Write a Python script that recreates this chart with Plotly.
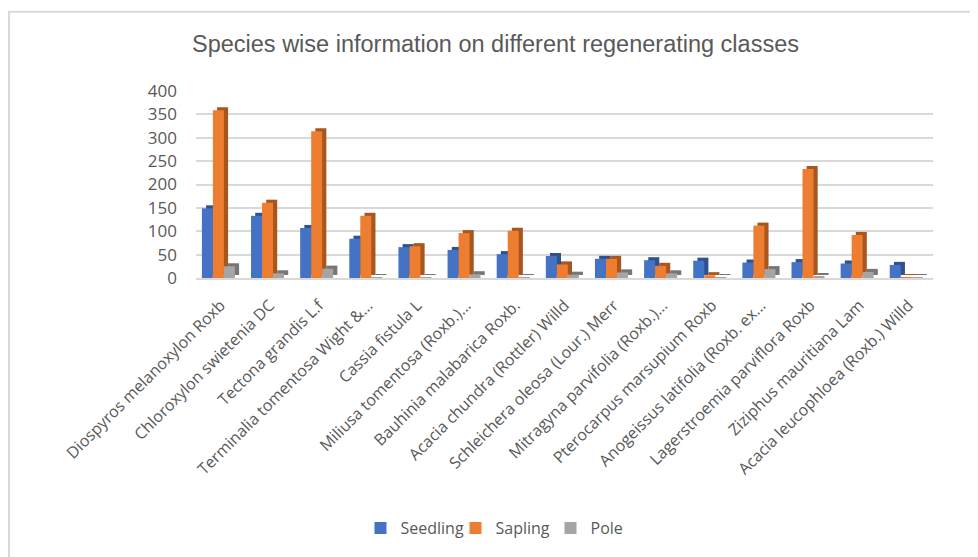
import plotly.graph_objects as go

categories = [
    "Diospyros melanoxylon Roxb",
    "Chloroxylon swietenia DC",
    "Tectona grandis L.f",
    "Terminalia tomentosa Wight &…",
    "Cassia fistula L",
    "Miliusa tomentosa (Roxb.)…",
    "Bauhinia malabarica Roxb.",
    "Acacia chundra (Rottler) Willd",
    "Schleichera oleosa (Lour.) Merr",
    "Mitragyna parvifolia (Roxb.)…",
    "Pterocarpus marsupium Roxb",
    "Anogeissus latifolia (Roxb. ex…",
    "Lagerstroemia parviflora Roxb",
    "Ziziphus mauritiana Lam",
    "Acacia leucophloea (Roxb.) Willd",
]
seedling = [149, 133, 107, 84, 66, 60, 51, 47, 41, 38, 37, 33, 34, 31, 28]
sapling = [359, 161, 314, 133, 68, 96, 101, 29, 41, 26, 6, 112, 233, 92, 1]
pole = [25, 10, 20, 1, 1, 8, 1, 7, 12, 10, 1, 19, 3, 13, 1]

y_ticks = [0, 50, 100, 150, 200, 250, 300, 350, 400]

series = [
    ("Seedling", seedling, "#4472C4", "#2F528F"),
    ("Sapling", sapling, "#ED7D31", "#A9561E"),
    ("Pole", pole, "#A5A5A5", "#767676"),
]

BAR_W = 0.224
OFFSETS = [-0.38, -0.156, 0.068]
DEPTH_X = 0.085   # side depth in category units
DEPTH_Y = 6.5     # top depth in value units

fig = go.Figure()
# depth (side) faces drawn first
for (name, vals, col, dark), off in zip(series, OFFSETS):
    fig.add_trace(go.Bar(
        x=categories, y=vals, base=DEPTH_Y, width=BAR_W,
        offset=off + DEPTH_X, marker=dict(color=dark, line=dict(width=0)),
        showlegend=False, hoverinfo="skip",
    ))
# front faces
for (name, vals, col, dark), off in zip(series, OFFSETS):
    fig.add_trace(go.Bar(
        x=categories, y=vals, name=name, width=BAR_W, offset=off,
        marker=dict(color=col, line=dict(width=0)),
    ))

OFF = 8  # page body margin
W, H = 978 - OFF, 557 - OFF
# plot area in page pixels
PL, PR, PT, PB = 196, 933, 91, 282
ml, mr, mt, mb = PL - OFF, W - (PR - OFF), PT - OFF, H - (PB - OFF)
pw, ph = W - ml - mr, H - mt - mb

def pxp(px):
    return (px - OFF - ml) / pw

def pyp(py):
    return (H - mb - (py - OFF)) / ph

fig.add_shape(type="rect", xref="paper", yref="paper",
              x0=pxp(9), x1=pxp(1000),
              y0=pyp(600), y1=pyp(10),
              line=dict(color="#D9D9D9", width=2), fillcolor="rgba(0,0,0,0)",
              layer="below")

fig.update_layout(
    width=W, height=H,
    margin=dict(l=ml, r=mr, t=mt, b=mb),
    paper_bgcolor="white", plot_bgcolor="white",
    title=dict(text="Species wise information on different regenerating classes",
               x=(495.5 - OFF) / W, xanchor="center",
               y=1 - (44 - OFF) / H, yanchor="middle",
               font=dict(family="Liberation Sans, Arial", size=23.5, color="#595959")),
    barmode="overlay",
    font=dict(family="Open Sans, Calibri, sans-serif", color="#595959"),
    xaxis=dict(tickangle=-45, tickfont=dict(size=16, color="#595959"),
               showline=True, linecolor="#D9D9D9", linewidth=1.5,
               ticks="", ticklabelstandoff=10, automargin=False),
    yaxis=dict(range=[0, 400], tickvals=y_ticks, showgrid=True,
               gridcolor="#D9D9D9", gridwidth=1.5, zeroline=False,
               tickfont=dict(size=17, color="#595959"), ticks="",
               ticklabelstandoff=18, automargin=False),
    legend=dict(orientation="h", x=pxp(503), xanchor="center",
                y=pyp(520), yanchor="top",
                font=dict(size=16, color="#595959"),
                itemwidth=30, entrywidth=50, entrywidthmode="pixels",
                traceorder="normal"),
)

fig.write_html("out.html")
